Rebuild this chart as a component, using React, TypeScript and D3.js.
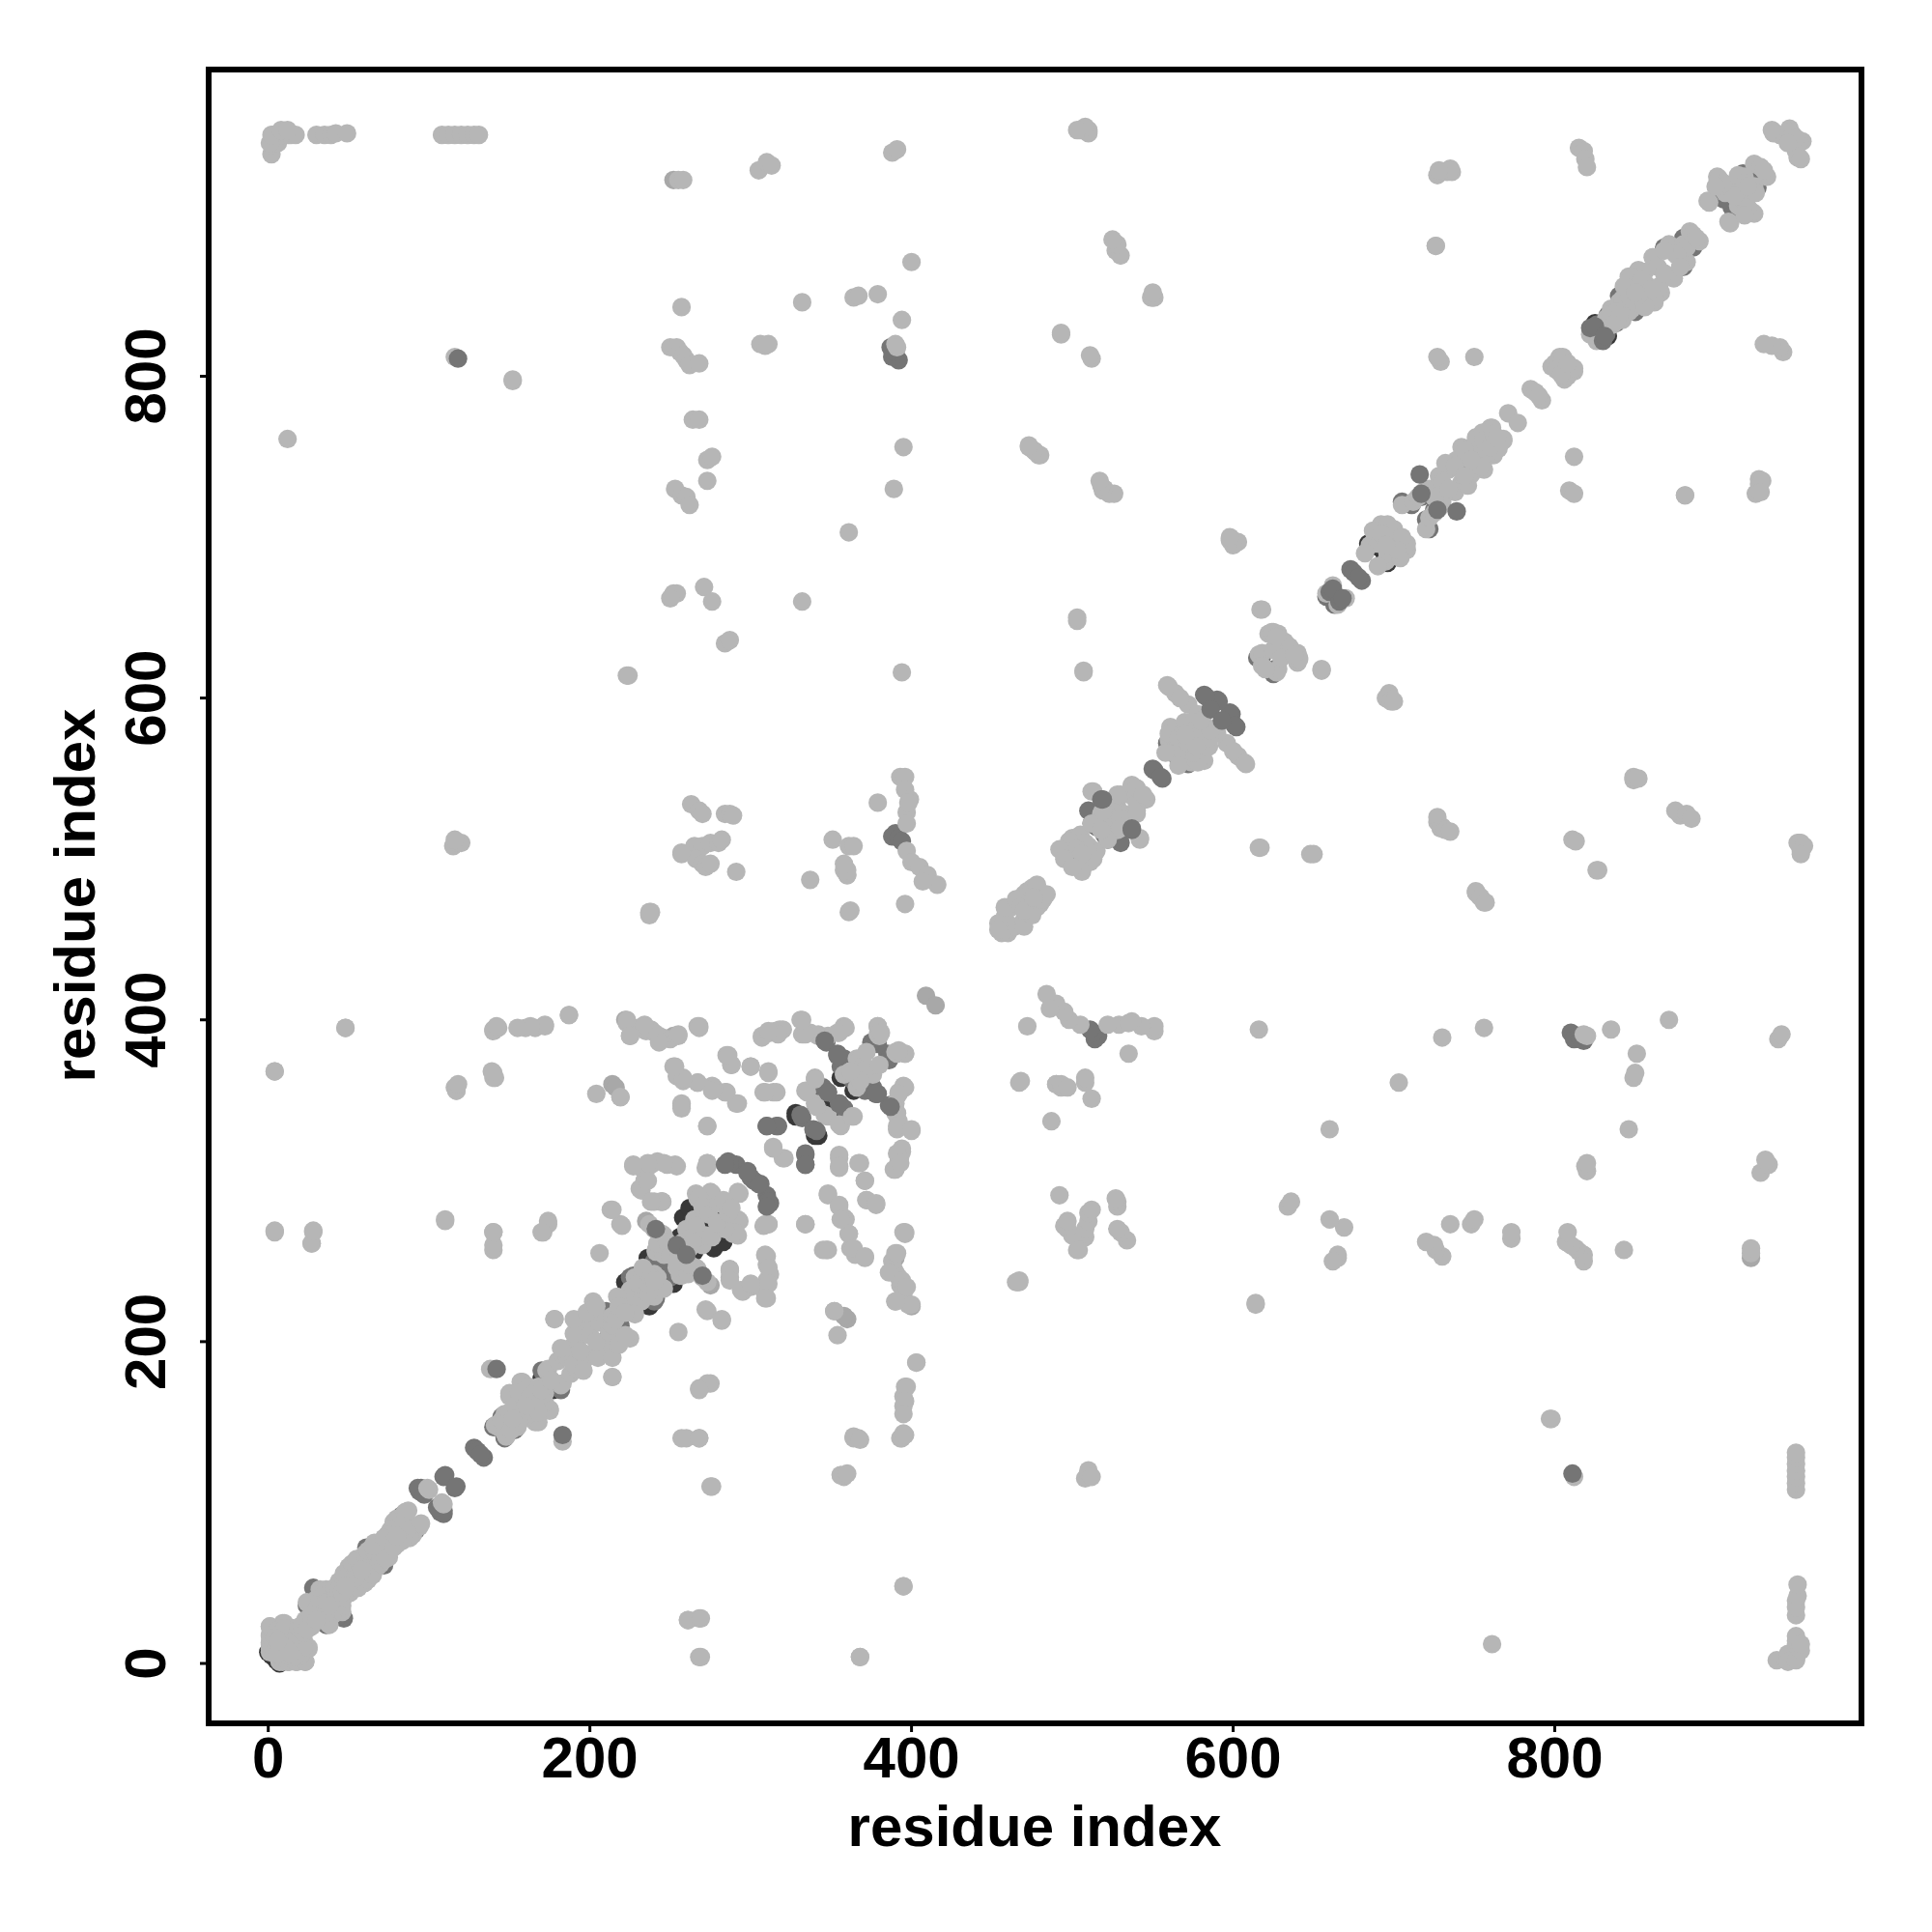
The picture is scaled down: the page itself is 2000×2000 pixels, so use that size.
import React from "react";
import * as d3 from "d3";

const xTicks = [0, 200, 400, 600, 800];
const yTicks = [0, 200, 400, 600, 800];
const axisTitle = "residue index";

// contact pairs [i, j]; every pair is plotted at (i,j) and (j,i)
const diagonalLight: [number, number][] = [
  [1,23],[1,13],[1,9],[1,18],[9,25],[7,1],[12,1],[17,1],[23,1],[25,10],[5,12],[8,15],[12,18],[15,22],[5,20],[10,22],[6,6],[12,12],[18,18],[4,16],[14,6],[19,22],[23,27],[21,24],
  [32,46],[36,46],[30,40],[26,36],[38,42],[35,42],[28,34],[24,38],[31,36],[36,38],[27,30],[44,51],[47,50],[50,54],[47,56],[50,60],[54,58],[56,61],[52,62],[58,65],[60,63],[55,65],[60,68],[62,70],[66,75],[66,70],[68,73],[65,73],[41,47],[44,46],[53,54],[48,48],[58,58],
  [77,83],[85,94],[80,90],[85,90],[87,95],[78,88],[82,86],[76,83],[74,80],[72,78],[79,80],[100,108],[99,109],
  [150,166],[158,175],[157,175],[158,163],[160,170],[165,170],[155,160],[162,172],[150,168],[153,160],[156,168],[168,172],[163,166],[170,170],[160,160],[141,148],[143,147],[147,155],[148,154],[145,151],[150,156],[152,152],[174,183],[173,182],[138,183],[176,176],
  [180,188],[183,192],[185,195],[188,195],[192,200],[190,198],[192,205],[195,205],[198,208],[186,190],[190,205],[182,196],[194,194],[200,204],[178,214],[190,214],[202,225],[206,212],[210,214],[198,218],[204,222],[214,216],
  [232,241],[228,240],[222,226],[222,228],[225,232],[230,236],[236,236],[217,228],[218,222],[240,242],[233,246],[238,240],[241,257],[246,254],[242,261],[245,267],
  [266,292],[275,293],[276,292],[268,290],[265,274],[260,270],[276,265],[268,262],[272,266],[270,284],[274,279],[258,262],[262,264],[280,286],[283,288],[253,256],[248,262],[250,254],
  [454,460],[458,464],[462,470],[465,472],[470,478],[472,480],[475,482],[478,484],[458,470],[465,475],[468,470],[456,454],[476,476],
  [500,513],[496,507],[507,496],[512,500],[512,542],[537,546],[537,545],[528,532],[518,528],[525,520],[532,526],[505,515],[512,522],[510,508],[518,518],[525,530],[522,535],[530,540],[535,540],[513,542],[498,511],[503,506],[492,506],[495,500],[528,540],[519,530],[540,544],
  [559,608],[564,603],[572,596],[581,588],[607,560],[600,567],[590,578],[561,582],[560,574],[568,564],[560,578],[573,582],[582,574],[566,575],[570,585],[575,585],[578,583],[565,565],[572,572],[580,580],[558,566],[577,570],[586,580],
  [617,655],[618,655],[625,641],[628,640],[632,635],[616,627],[618,628],[625,630],[618,620],[622,640],[624,641],[627,638],[658,665],[662,670],
  [690,705],[692,708],[695,700],[688,698],[696,708],[700,705],[685,695],[690,696],[687,704],[702,692],[695,695],[682,690],[705,720],[712,722],[715,725],[722,730],[718,728],[725,725],
  [734,742],[739,748],[751,762],[761,768],[760,768],[742,756],[735,744],[745,750],[748,756],[752,758],[755,765],[728,738],[732,746],[738,744],[744,754],[748,748],[756,760],[762,764],[730,734],
  [771,777],[785,792],[788,790],[798,806],[803,812],[806,810],[800,808],[805,812],[801,804],[808,808],
  [835,842],[838,834],[846,840],[842,848],[850,846],[826,822],[846,862],[852,866],[861,874],[856,858],[865,856],[862,848],[874,861],[854,860],[864,868],[838,840],[832,836],[843,856],[852,850],
  [884,890],[871,882],[881,872],[880,882],[875,876],[868,878],[886,888],
  [901,924],[924,932],[895,909],[916,924],[924,918],[906,914],[918,908],[908,896],[923,902],[912,912],[905,920],[900,918],[914,925],[918,920],[928,930],
  [936,952],[946,954],[952,946],[951,936],[940,950],[948,950],[945,945],[935,953],
];

const offDiagonalLight: [number, number][] = [
  [2,938],[2,944],[3,950],[6,945],[8,950],[12,950],[14,950],[17,950],[30,950],[35,950],[39,950],[42,951],[49,951],[108,950],[112,950],[116,950],[120,950],[124,950],[128,950],[131,950],[1,945],[2,950],[8,953],[12,953],
  [255,922],[258,922],[305,928],[310,933],[313,931],[388,939],[391,941],[505,953],[510,953],[510,951],[815,942],[818,940],[819,935],[820,930],[727,925],[733,927],[736,927],[726,881],[527,878],[530,875],[400,871],[549,849],[551,849],[332,846],[364,849],[367,850],[379,851],[394,835],[257,843],[493,826],
  [250,818],[254,818],[256,815],[258,813],[260,810],[262,807],[268,808],[306,820],[309,819],[311,820],[390,820],[391,818],[512,811],[116,812],[152,797],[12,761],[264,773],[268,773],[273,748],[276,750],[273,735],[253,730],[257,726],[260,725],[262,720],[389,730],[395,756],[473,756],[477,753],[480,751],[520,730],[523,727],[526,727],[361,703],[598,699],[600,698],[603,697],[812,750],[809,729],[812,727],[881,726],[929,735],[928,728],
  [252,665],[254,665],[250,662],[271,669],[276,660],[332,660],[284,634],[287,636],[223,614],[394,616],[507,616],[503,648],[695,600],[698,598],[700,598],[393,551],[396,551],[396,543],[399,537],[379,535],[263,534],[268,530],[270,528],[284,528],[287,528],[289,527],[257,503],[265,508],[270,508],[275,510],[280,510],[282,512],[266,500],[270,497],[272,495],[275,497],[291,492],[115,508],[118,510],[120,510],[351,512],[361,508],[364,508],[358,493],[360,490],[337,487],[397,505],[400,498],[405,495],[410,490],[416,484],[397,529],[237,466],[238,467],[361,467],[362,468],[396,472],[617,507],[650,503],[751,479],[754,476],[757,473],[813,511],[827,493],[850,550],[852,550],[882,528],[885,525],[729,519],[732,518],[735,517],[952,510],[955,508],[953,503],[397,522],[398,535],
  [48,395],[4,368],[4,268],[28,268],[27,261],[116,358],[117,356],[140,394],[143,395],[160,395],[166,395],[172,396],[187,403],[140,367],[141,364],[204,354],[219,352],[110,275],[140,268],[140,257],[174,275],[171,268],
  [227,310],[232,308],[238,310],[242,312],[248,310],[253,310],[231,295],[234,300],[240,287],[245,287],[272,308],[273,311],[213,282],[219,273],[178,214],[225,390],[230,395],[235,393],[240,392],[245,389],[243,390],[250,388],[255,390],[267,396],[223,398],[252,371],[254,365],[258,362],[267,361],[276,359],[284,355],[291,348],[257,348],[273,334],[285,378],[288,372],[300,371],[311,368],[308,355],[314,355],[314,321],[320,314],
  [331,400],[332,391],[342,391],[355,392],[358,396],[307,390],[312,392],[315,393],[318,394],[320,394],[337,392],[348,390],[379,396],[380,390],[396,379],[391,379],[381,392],[366,376],[362,368],[376,368],[366,358],[395,359],[392,354],[390,342],[391,334],[400,332],[340,364],[334,356],[340,348],[346,341],[355,335],[363,340],[370,372],[372,380],[368,362],
  [348,292],[355,285],[358,277],[361,267],[356,276],[364,258],[371,253],[347,257],[372,288],[378,286],[396,268],[391,255],[386,243],[394,238],[400,223],[390,225],[397,234],[355,316],[355,309],[367,311],[371,300],[391,317],[389,307],[393,311],[334,273],[309,273],[311,273],[309,254],[311,246],[311,236],[294,232],[300,236],[309,227],[287,244],[287,238],[272,220],[282,214],[273,237],[293,292],[255,206],
  [273,174],[268,170],[260,140],[268,140],[276,110],[261,27],[269,28],[269,4],[368,4],[395,48],[356,117],[360,118],[364,140],[368,139],[393,140],[396,142],[397,172],[396,163],[395,155],[403,187],[395,268],[465,237],[467,237],[614,224],[798,152],[512,116],[490,360],[493,360],[497,358],[504,257],[486,407],[292,275],[289,267],[256,241],[266,246],[345,257],
];

const softPairs: [number, number][] = [
  [214,360],[235,275],[390,252],[400,222],[252,922],[409,415],[550,849],[240,270],[245,287],[352,219],[358,216],
];

const underMid: [number, number][] = [
  [28,47],[30,44],[30,45],[24,36],[34,44],[29,43],[61,72],[63,70],[60,62],[44,48],[48,56],[83,92],[85,87],[76,82],[94,107],[95,109],[93,109],[97,105],[140,147],[146,154],[141,147],[145,153],[170,182],[171,181],
  [193,211],[210,219],[205,218],[208,216],[218,210],[225,240],[227,241],[243,251],[251,245],[246,248],[240,250],[7,14],[9,16],[6,12],
  [388,514],[390,516],[392,513],[394,511],[392,810],[388,812],[387,818],[390,815],[388,816],
  [559,572],[566,578],[571,580],[562,566],[615,625],[658,663],[618,626],[687,696],[690,703],[700,703],[694,705],[705,722],[717,725],[711,720],[757,765],[760,767],[745,748],[826,832],
  [840,850],[850,842],[838,833],[902,914],[917,926],[924,920],[910,905],[880,886],[868,880],[945,950],
  [520,515],[512,522],[505,512],[516,526],[530,510],
  [347,387],[354,379],[357,373],[362,364],[367,358],[371,356],[378,354],[386,347],[378,386],[385,379],[375,386],[358,345],[373,364],[376,358],
];

const topMid: [number, number][] = [
  [118,811],[142,183],[109,116],[110,117],[128,134],[130,132],[550,556],[551,555],[582,602],[590,599],[598,591],[601,583],[586,593],[660,666],[662,668],[673,680],[675,678],
  [518,537],[519,537],[716,739],[717,727],[822,830],[825,831],[254,260],[241,270],[286,312],[291,310],[298,306],[302,300],[305,298],[311,287],[310,284],[310,334],[316,334],[334,317],[334,310],[346,387],[354,378],[348,355],[355,348],[332,339],[341,331],
];

const darkPairs: [number, number][] = [
  [0,7],[2,5],[7,4],[170,177],[171,176],[172,179],[202,211],[205,213],[222,237],[223,234],[226,236],[229,234],[236,252],[243,250],[246,250],[248,252],
  [277,284],[276,270],[258,277],[256,265],[262,283],[282,268],[270,278],[264,260],[268,284],[272,276],[262,270],
  [849,855],[855,850],[846,852],[852,858],[498,506],[505,501],[356,364],[364,372],[368,364],[328,342],[340,328],[344,352],[352,344],[684,696],[688,700],[694,690],[828,826],[825,833],
];

const frame = { left: 216, right: 1927, top: 72, bottom: 1784 };
const xScale = d3.scaleLinear().domain([0, 800]).range([277.7, 1609.5]);
const yScale = d3.scaleLinear().domain([0, 800]).range([1722, 389.5]);
const FONT = "'Liberation Sans', Arial, sans-serif";

function Points({ pairs, fill }: { pairs: [number, number][]; fill: string }) {
  const pts = pairs.flatMap(([a, b]) => [[a, b], [b, a]]);
  return (
    <g fill={fill}>
      {pts.map(([a, b], i) => (
        <circle key={i} cx={xScale(a)} cy={yScale(b)} r={9.6} />
      ))}
    </g>
  );
}

export default function App() {
  return (
    <svg width={2000} height={2000} style={{ position: "absolute", left: 0, top: 0, background: "#fff" }}>
      <Points pairs={darkPairs} fill="#383838" />
      <Points pairs={underMid} fill="#757575" />
      <Points pairs={softPairs} fill="#a8a8a8" />
      <Points pairs={offDiagonalLight} fill="#b6b6b6" />
      <Points pairs={diagonalLight} fill="#b6b6b6" />
      <Points pairs={topMid} fill="#757575" />
      <rect x={frame.left} y={frame.top} width={frame.right - frame.left} height={frame.bottom - frame.top} fill="none" stroke="#000" strokeWidth={6} />
      {xTicks.map((t) => (
        <g key={t}>
          <line x1={xScale(t)} x2={xScale(t)} y1={frame.bottom} y2={frame.bottom + 9} stroke="#000" strokeWidth={3} />
          <text x={xScale(t)} y={1840} textAnchor="middle" fontFamily={FONT} fontWeight={700} fontSize={60}>{t}</text>
        </g>
      ))}
      {yTicks.map((t) => (
        <g key={t}>
          <line x1={frame.left} x2={frame.left - 9} y1={yScale(t)} y2={yScale(t)} stroke="#000" strokeWidth={3} />
          <text transform={`translate(171,${yScale(t)}) rotate(-90)`} textAnchor="middle" fontFamily={FONT} fontWeight={700} fontSize={60}>{t}</text>
        </g>
      ))}
      <text x={1071} y={1911} textAnchor="middle" fontFamily={FONT} fontWeight={700} fontSize={60}>{axisTitle}</text>
      <text transform="translate(98,927) rotate(-90)" textAnchor="middle" fontFamily={FONT} fontWeight={700} fontSize={60}>{axisTitle}</text>
    </svg>
  );
}
